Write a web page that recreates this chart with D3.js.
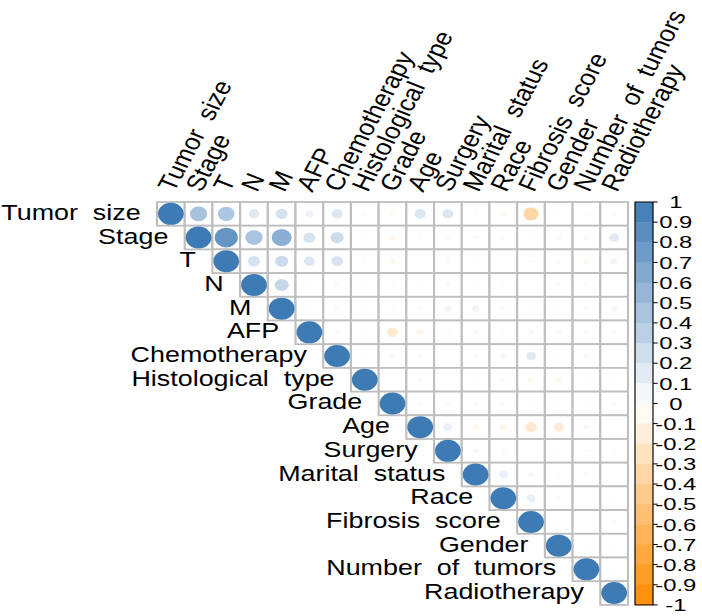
<!DOCTYPE html>
<html><head><meta charset="utf-8">
<script src="https://cdn.jsdelivr.net/npm/d3@7"></script>
<style>
body{margin:0;background:#fff}
svg text{font-family:"Liberation Sans",Arial,sans-serif;white-space:pre;fill:#000}
</style>
</head><body>
<svg id="chart" width="702" height="616"></svg>
<script>
// ---- data ----
const variables = ["Tumor  size","Stage","T","N","M","AFP","Chemotherapy","Histological  type","Grade","Age","Surgery","Marital  status","Race","Fibrosis  score","Gender","Number  of  tumors","Radiotherapy"];
// upper triangle, row i lists correlations with variables j > i
const row0  = [0.45,0.42,0.17,0.22,0.10,0.18,0.03,-0.05,0.19,0.18,-0.04,-0.06,-0.35,0.02,-0.04,0.03];
const row1  = [0.80,0.45,0.60,0.22,0.26,-0.03,-0.07,0.02,0.04,0.04,0.03,-0.03,0.04,-0.05,0.15];
const row2  = [0.22,0.26,0.18,0.20,-0.03,-0.07,0.01,0.03,-0.02,0.01,-0.04,0.03,-0.06,0.07];
const row3  = [0.30,0.03,0.04,-0.03,-0.03,-0.03,0.05,0.03,0.03,-0.02,0.03,-0.04,0.01];
const row4  = [0.03,0.04,0.03,-0.03,0.03,0.08,0.08,0.03,-0.04,0.02,-0.04,0.06];
const row5  = [0.03,0.02,-0.18,-0.08,0.03,0.05,-0.03,0.05,-0.06,-0.04,0.03];
const row6  = [-0.03,0.05,-0.05,-0.02,-0.05,0.06,0.15,0.02,-0.05,0.01];
const row7  = [0.02,0.04,0.02,-0.03,0.03,-0.06,-0.07,-0.03,-0.02];
const row8  = [0.03,0.04,0.04,0.03,0.02,-0.02,-0.02,-0.05];
const row9  = [0.12,-0.07,-0.08,-0.20,-0.17,0.06,0.01];
const row10 = [0.05,-0.04,0.01,0.02,-0.04,-0.05];
const row11 = [0.12,0.05,-0.04,-0.05,0.01];
const row12 = [0.12,0.03,0.01,0.02];
const row13 = [0.02,-0.02,-0.03];
const row14 = [-0.02,0.02];
const row15 = [0.02];
const upperRows = [row0,row1,row2,row3,row4,row5,row6,row7,row8,row9,row10,row11,row12,row13,row14,row15,[]];
const legendTicks  = [1,0.9,0.8,0.7,0.6,0.5,0.4,0.3,0.2,0.1,0,-0.1,-0.2,-0.3,-0.4,-0.5,-0.6,-0.7,-0.8,-0.9,-1];
const legendLabels = ["1","0.9","0.8","0.7","0.6","0.5","0.4","0.3","0.2","0.1","0","-0.1","-0.2","-0.3","-0.4","-0.5","-0.6","-0.7","-0.8","-0.9","-1"];

// ---- build cells ----
const n = variables.length;
const cells = [];
for (let i = 0; i < n; i++) {
  cells.push({i, j: i, r: 1});
  upperRows[i].forEach((v, k) => cells.push({i, j: i + 1 + k, r: v}));
}

// ---- layout (pre-stretch coordinates; the whole drawing is stretched horizontally) ----
const sx = 1.169;
const cell = 23.7;
const gx0 = 134.3, gy0 = 202;
const x = d3.scaleBand().domain(d3.range(n)).range([gx0, gx0 + n * cell]);
const y = d3.scaleBand().domain(d3.range(n)).range([gy0, gy0 + n * cell]);
const color = d3.scaleLinear().domain([-1, 0, 1]).range(["#FF8C00", "#FFFFFF", "#3E7AB4"]).interpolate(d3.interpolateRgb);
const rad = d3.scaleSqrt().domain([0, 1]).range([0, cell * 0.465]);

const svg = d3.select("#chart");
const g = svg.append("g").attr("transform", `scale(${sx},1)`);

// grid cells
g.append("g").selectAll("rect").data(cells).join("rect")
  .attr("x", d => x(d.j)).attr("y", d => y(d.i))
  .attr("width", cell).attr("height", cell)
  .attr("fill", "#fff").attr("stroke", "#BEBEBE").attr("stroke-width", 1.8);

// circles
g.append("g").selectAll("circle").data(cells).join("circle")
  .attr("cx", d => x(d.j) + cell / 2).attr("cy", d => y(d.i) + cell / 2)
  .attr("r", d => rad(Math.abs(d.r)))
  .attr("fill", d => color(d.r));

// row labels
g.append("g").selectAll("text").data(variables).join("text")
  .attr("x", (d, i) => x(i) - 14)
  .attr("y", (d, i) => y(i) + cell / 2 + 6)
  .attr("text-anchor", "end")
  .attr("font-size", 23)
  .text(d => d);

// column labels
g.append("g").selectAll("text").data(variables).join("text")
  .attr("transform", (d, i) => `translate(${x(i) + cell / 2 + 2.5},${gy0 - 9}) rotate(-65)`)
  .attr("text-anchor", "start")
  .attr("font-size", 23)
  .text(d => d);

// color legend
const lx0 = 543.2, lw = 15.4;
const ly = d3.scaleLinear().domain([1, -1]).range([gy0, gy0 + n * cell]);
const bins = d3.range(20).map(k => ({hi: 1 - k * 0.1, lo: 0.9 - k * 0.1}));
const leg = g.append("g");
leg.selectAll("rect").data(bins).join("rect")
  .attr("x", lx0).attr("y", d => ly(d.hi))
  .attr("width", lw).attr("height", d => ly(d.lo) - ly(d.hi) + 0.5)
  .attr("fill", d => color((d.hi + d.lo) / 2));
leg.append("rect").attr("x", lx0).attr("y", ly(1)).attr("width", lw).attr("height", ly(-1) - ly(1))
  .attr("fill", "none").attr("stroke", "#000").attr("stroke-width", 1);
leg.selectAll("line").data(legendTicks).join("line")
  .attr("x1", lx0 + lw).attr("x2", lx0 + lw + 4)
  .attr("y1", d => ly(d)).attr("y2", d => ly(d))
  .attr("stroke", "#000").attr("stroke-width", 1);
leg.selectAll("text").data(legendTicks).join("text")
  .attr("transform", d => `translate(${lx0 + lw + 19.5},${ly(d) + 6.2}) scale(1.2,1)`)
  .attr("text-anchor", "middle")
  .attr("font-size", 17)
  .text((d, k) => legendLabels[k]);
</script>
</body></html>
